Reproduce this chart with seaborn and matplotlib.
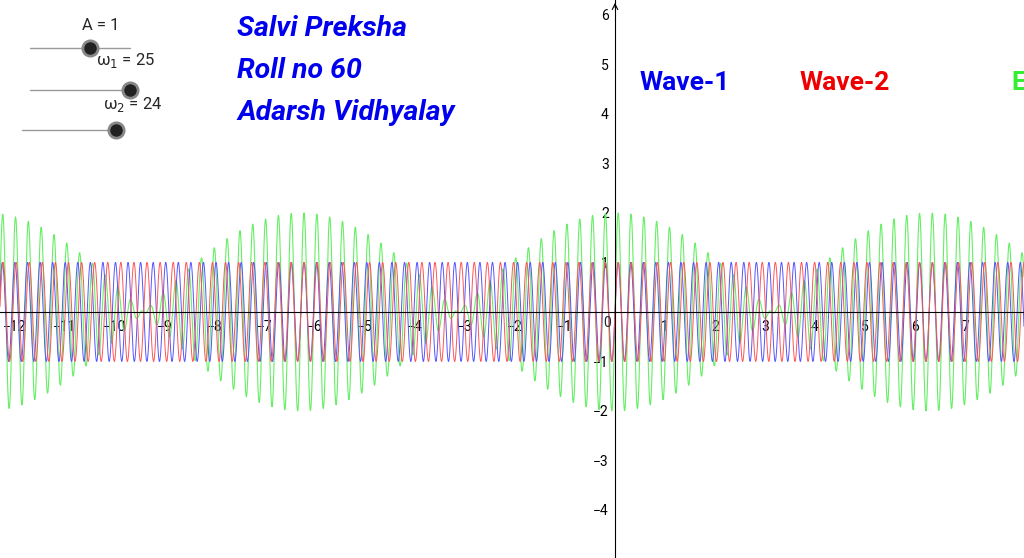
import numpy as np
import pandas as pd
import matplotlib
matplotlib.use("Agg")
import matplotlib.pyplot as plt
import seaborn as sns

A = 1
omega1 = 25
omega2 = 24
x_range = [-12.3, 8.18]
y_range = [-4.97, 6.3]
x_ticks = list(range(-12, 8))
y_ticks = [-4, -3, -2, -1, 1, 2, 3, 4, 5, 6]
labels = ["Wave-1", "Wave-2", "E"]
info = ["Salvi Preksha", "Roll no 60", "Adarsh Vidhyalay"]

sns.set_style("white")
plt.rcParams['font.family'] = ['Roboto', 'DejaVu Sans']

W, H = 1024, 558
fig = plt.figure(figsize=(W/100, H/100), dpi=100)
ax = fig.add_axes([0, 0, 1, 1])

xs = np.linspace(x_range[0], x_range[1], 8000)
y1 = A*np.sin(omega1*xs)
y2 = A*np.sin(omega2*xs)
df = pd.DataFrame({"x": xs, "w1": y1, "w2": y2, "s": y1+y2})
sns.lineplot(data=df, x="x", y="s", ax=ax, color="#66ee66", lw=0.8)
sns.lineplot(data=df, x="x", y="w1", ax=ax, color="#5555ff", lw=0.7)
sns.lineplot(data=df, x="x", y="w2", ax=ax, color="#ff5555", lw=0.7)

ax.set_xlim(*x_range); ax.set_ylim(*y_range)
ax.set_xlabel(""); ax.set_ylabel("")
for s in ["top", "right"]:
    ax.spines[s].set_visible(False)
ax.spines["left"].set_position(("data", 0))
ax.spines["bottom"].set_position(("data", 0))
ax.spines["left"].set_color("black"); ax.spines["bottom"].set_color("black")
ax.spines["left"].set_linewidth(0.8); ax.spines["bottom"].set_linewidth(0.8)
ax.set_xticks([t for t in x_ticks if t != 0])
ax.set_yticks(y_ticks)
ax.set_xticklabels([f"\u2212{abs(t)}" if t < 0 else str(t) for t in x_ticks if t != 0])
ax.set_yticklabels([f"\u2212{abs(t)}" if t < 0 else str(t) for t in y_ticks])
ax.tick_params(axis="both", direction="inout", length=5, labelsize=10, colors="black", pad=2)
ax.tick_params(axis="x", pad=3)
for lab in ax.get_yticklabels():
    lab.set_horizontalalignment("right")
ax.text(-0.08, -0.08, "0", ha="right", va="top", fontsize=10)
ax.annotate("", xy=(0, y_range[1]), xytext=(0, y_range[1]-0.2),
            arrowprops=dict(arrowstyle="->", lw=0.8, color="black"))

def fx(px): return px/W
def fy(py): return 1-py/H

# sliders
for (x0, x1, yy, dx) in [(30, 130, 48, 90), (30, 130, 90, 130), (22, 122, 130, 116)]:
    fig.add_artist(plt.Line2D([fx(x0), fx(x1)], [fy(yy), fy(yy)], color="#999999", lw=1))
    fig.add_artist(plt.Line2D([fx(dx)], [fy(yy)], marker="o", ms=11, color="#222222",
                              mec="#888888", mew=2))
fig.text(fx(101), fy(25), f"A = {A}", ha="center", va="center", fontsize=12)
fig.text(fx(126), fy(60), f"ω$_1$ = {omega1}", ha="center", va="center", fontsize=12)
fig.text(fx(133), fy(104), f"ω$_2$ = {omega2}", ha="center", va="center", fontsize=12)

for i, t in enumerate(info):
    fig.text(fx(237), fy(28 + 42*i), t, ha="left", va="center", fontsize=20.5,
             fontweight="bold", fontstyle="italic", color="#0000ee")
fig.text(fx(640), fy(83), labels[0], ha="left", va="center", fontsize=19, fontweight="bold", color="#0000ee")
fig.text(fx(800), fy(83), labels[1], ha="left", va="center", fontsize=19, fontweight="bold", color="#ee0000")
fig.text(fx(1011), fy(83), labels[2], ha="left", va="center", fontsize=19, fontweight="bold", color="#33ee33")

fig.savefig("out.png", dpi=100)
